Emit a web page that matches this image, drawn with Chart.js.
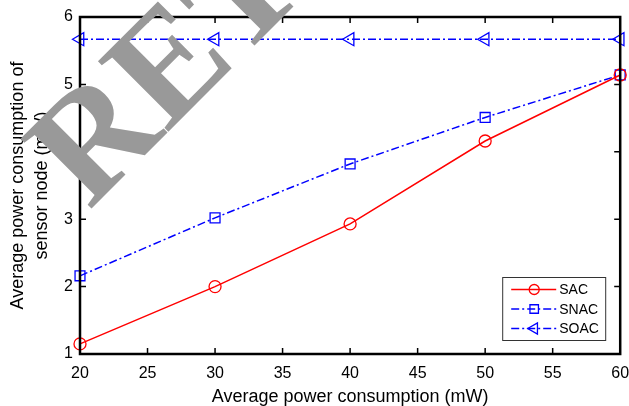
<!DOCTYPE html>
<html>
<head>
<meta charset="utf-8">
<script src="https://cdn.jsdelivr.net/npm/chart.js@4.4.1/dist/chart.umd.min.js"></script>
<style>
  html, body { margin: 0; padding: 0; background: #fff; }
  #wrap { width: 629px; height: 406px; }
</style>
</head>
<body>
<div id="wrap"><canvas id="powerChart"></canvas></div>
<script>
// values
var powerLevels = [20, 30, 40, 50, 60];
var sacValues = [1.15, 2.0, 2.93, 4.16, 5.14];
var snacValues = [2.16, 3.02, 3.82, 4.51, 5.14];
var soacValues = [5.67, 5.67, 5.67, 5.67, 5.67];
var seriesNames = ['SAC', 'SNAC', 'SOAC'];
var xTickValues = [20, 25, 30, 35, 40, 45, 50, 55, 60];
var yTickValues = [1, 2, 3, 4, 5, 6];

var fontFamily = '"Liberation Sans", Arial, sans-serif';
var dashDot = [8, 3, 2, 3];

var toPoints = function(values) {
	var pts = [];
	for (var i = 0; i < powerLevels.length; i++) {
		pts.push({ x: powerLevels[i], y: values[i] });
	}
	return pts;
};

// box round the plot, inward ticks on all four sides
var frameTicks = {
	id: 'frameTicks',
	afterDatasetsDraw: function(chart) {
		var ctx = chart.ctx;
		var a = chart.chartArea;
		var xs = chart.scales.x, ys = chart.scales.y;
		var len = 6;
		ctx.save();
		ctx.strokeStyle = '#000';
		ctx.lineWidth = 1.5;
		ctx.beginPath();
		xTickValues.forEach(function(v) {
			var px = xs.getPixelForValue(v);
			ctx.moveTo(px, a.bottom); ctx.lineTo(px, a.bottom - len);
			ctx.moveTo(px, a.top); ctx.lineTo(px, a.top + len);
		});
		yTickValues.forEach(function(v) {
			var py = ys.getPixelForValue(v);
			ctx.moveTo(a.left, py); ctx.lineTo(a.left + len, py);
			ctx.moveTo(a.right, py); ctx.lineTo(a.right - len, py);
		});
		ctx.stroke();
		ctx.lineWidth = 2.5;
		ctx.strokeRect(a.left, a.top, a.right - a.left, a.bottom - a.top);
		ctx.restore();
	}
};

// legend box in the lower right corner, line + marker like the figure
var boxLegend = {
	id: 'boxLegend',
	afterDatasetsDraw: function(chart) {
		var ctx = chart.ctx;
		var a = chart.chartArea;
		var bx = a.right - 118, by = a.bottom - 77, bw = 103, bh = 63;
		ctx.save();
		ctx.fillStyle = '#fff';
		ctx.fillRect(bx, by, bw, bh);
		ctx.strokeStyle = '#333';
		ctx.lineWidth = 1;
		ctx.strokeRect(bx + 0.5, by + 0.5, bw, bh);
		chart.data.datasets.forEach(function(ds, i) {
			var y = by + 12.5 + i * 19.5;
			ctx.strokeStyle = ds.borderColor;
			ctx.lineWidth = ds.borderWidth;
			ctx.setLineDash(ds.borderDash || []);
			ctx.beginPath();
			ctx.moveTo(bx + 9, y);
			ctx.lineTo(bx + 54, y);
			ctx.stroke();
			ctx.setLineDash([]);
			ctx.fillStyle = 'rgba(0,0,0,0)';
			ctx.lineWidth = 1.3;
			Chart.helpers.drawPoint(ctx, {
				pointStyle: ds.pointStyle,
				rotation: ds.pointRotation || 0,
				radius: ds.pointRadius - 1,
				borderWidth: 1.3
			}, bx + 32, y);
			ctx.fillStyle = '#000';
			ctx.font = '14px ' + fontFamily;
			ctx.textBaseline = 'middle';
			ctx.fillText(ds.label, bx + 57, y + 1);
		});
		ctx.restore();
	}
};

// grey watermark over the figure
var watermark = {
	id: 'watermark',
	afterDraw: function(chart) {
		var ctx = chart.ctx;
		ctx.save();
		ctx.translate(89, 211);
		ctx.rotate(-45 * Math.PI / 180);
		ctx.fillStyle = '#999999';
		ctx.font = 'bold 152px "Liberation Serif", "Times New Roman", serif';
		ctx.textBaseline = 'alphabetic';
		ctx.fillText('RETRACTED', 0, 0);
		ctx.restore();
	}
};

var ctx = document.getElementById('powerChart').getContext('2d');
var chart = new Chart(ctx, {
	type: 'line',
	data: {
		datasets: [{
			label: seriesNames[0],
			data: toPoints(sacValues),
			borderColor: '#ff0000',
			borderWidth: 1.5,
			pointStyle: 'circle',
			pointRadius: 6,
			pointBorderWidth: 1.3,
			pointBackgroundColor: 'rgba(0,0,0,0)',
			pointBorderColor: '#ff0000'
		}, {
			label: seriesNames[1],
			data: toPoints(snacValues),
			borderColor: '#0000ff',
			borderWidth: 1.5,
			borderDash: dashDot,
			pointStyle: 'rect',
			pointRadius: 7,
			pointBorderWidth: 1.3,
			pointBackgroundColor: 'rgba(0,0,0,0)',
			pointBorderColor: '#0000ff'
		}, {
			label: seriesNames[2],
			data: toPoints(soacValues),
			borderColor: '#0000ff',
			borderWidth: 1.5,
			borderDash: dashDot,
			pointStyle: 'triangle',
			pointRotation: -90,
			pointRadius: 7.5,
			pointBorderWidth: 1.3,
			pointBackgroundColor: 'rgba(0,0,0,0)',
			pointBorderColor: '#0000ff'
		}]
	},
	options: {
		responsive: true,
		maintainAspectRatio: false,
		animation: false,
		clip: false,
		layout: { padding: { top: 17, right: 7, left: 0, bottom: 0 } },
		plugins: {
			legend: { display: false },
			tooltip: { enabled: false }
		},
		scales: {
			x: {
				type: 'linear',
				min: 20,
				max: 60,
				afterBuildTicks: function(s) { s.ticks = xTickValues.map(function(v) { return { value: v }; }); },
				afterFit: function(s) { s.height = 52; s.paddingRight = 0; s.paddingLeft = 0; },
				grid: { display: false, drawTicks: false },
				border: { display: false },
				ticks: { color: '#000', padding: 10, font: { family: fontFamily, size: 16 }, maxRotation: 0 },
				title: {
					display: true,
					text: 'Average power consumption (mW)',
					color: '#000',
					font: { family: fontFamily, size: 18, lineHeight: 1.0 },
					padding: { top: 0, bottom: 0 }
				}
			},
			y: {
				type: 'linear',
				min: 1,
				max: 6,
				afterBuildTicks: function(s) { s.ticks = yTickValues.map(function(v) { return { value: v }; }); },
				afterFit: function(s) { s.width = 80; },
				grid: { display: false, drawTicks: false },
				border: { display: false },
				ticks: { color: '#000', padding: 7, font: { family: fontFamily, size: 16 } },
				title: {
					display: true,
					text: ['Average power consumption of', 'sensor node (mW)'],
					color: '#000',
					font: { family: fontFamily, size: 18, lineHeight: 1.33 },
					padding: { top: 6, bottom: 0 }
				}
			}
		}
	},
	plugins: [frameTicks, boxLegend, watermark]
});
</script>
</body>
</html>
